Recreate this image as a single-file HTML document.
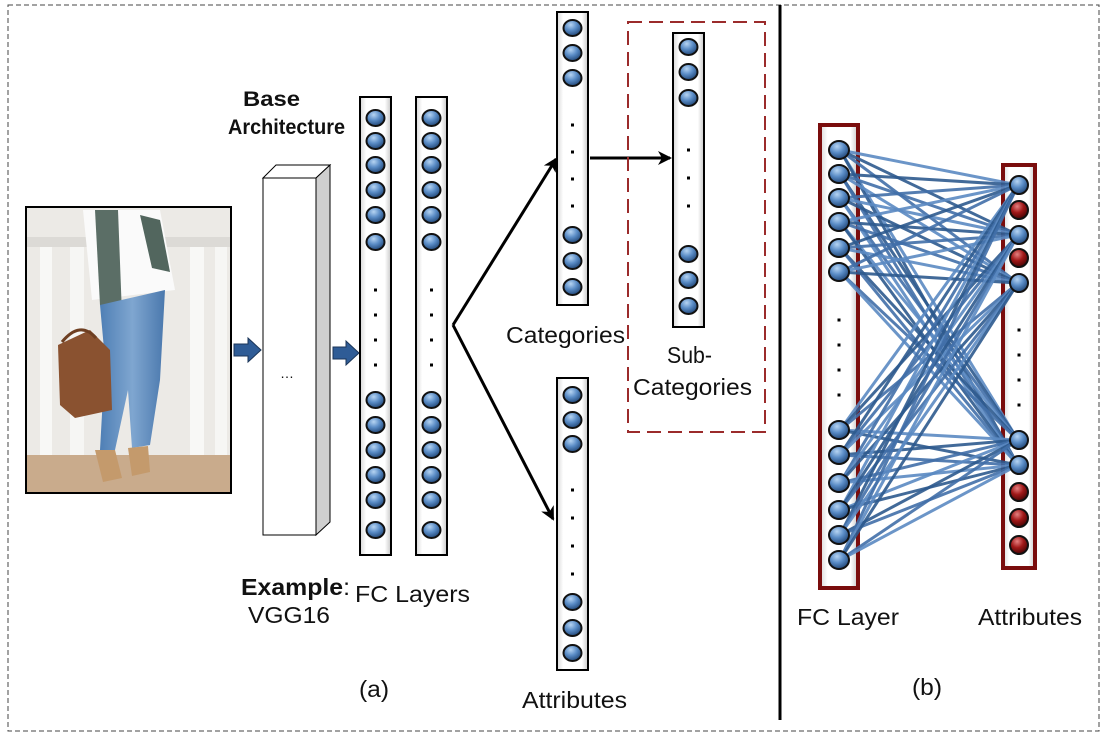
<!DOCTYPE html>
<html><head><meta charset="utf-8"><style>
html,body{margin:0;padding:0;background:#fff}
svg{display:block}
text{font-family:"Liberation Sans",Arial,sans-serif;fill:#111}
</style></head><body>
<svg id="s" width="1106" height="737" viewBox="0 0 1106 737" xmlns="http://www.w3.org/2000/svg">
<defs>
<radialGradient id="bb" cx="0.4" cy="0.3" r="0.7"><stop offset="0" stop-color="#b6d4f2"/><stop offset="0.5" stop-color="#5a8cc6"/><stop offset="1" stop-color="#23497a"/></radialGradient>
<radialGradient id="rb" cx="0.4" cy="0.3" r="0.7"><stop offset="0" stop-color="#e58080"/><stop offset="0.5" stop-color="#a01818"/><stop offset="1" stop-color="#4a0505"/></radialGradient>
<linearGradient id="col" x1="0" x2="1"><stop offset="0" stop-color="#d8d8d8"/><stop offset="0.2" stop-color="#fff"/><stop offset="0.8" stop-color="#fff"/><stop offset="1" stop-color="#c8c8c8"/></linearGradient>
<linearGradient id="jean" x1="0" x2="1"><stop offset="0" stop-color="#4f7fb5"/><stop offset="0.5" stop-color="#7fa6d0"/><stop offset="1" stop-color="#4a78ad"/></linearGradient>
<marker id="ah" markerWidth="14" markerHeight="14" refX="12" refY="7" orient="auto" markerUnits="userSpaceOnUse"><path d="M0,0 L14,7 L0,14 L4,7 z" fill="#000"/></marker>
</defs>
<rect x="8" y="5" width="1091" height="726" fill="none" stroke="#444" stroke-width="1" stroke-dasharray="5,3"/>
<line x1="780" y1="5" x2="780" y2="720" stroke="#000" stroke-width="3"/>

<g>
<rect x="26" y="207" width="205" height="286" fill="#eceae6"/>
<rect x="26" y="237" width="205" height="10" fill="#dcdad6"/>
<rect x="40" y="247" width="12" height="210" fill="#f8f8f6"/>
<rect x="70" y="247" width="14" height="210" fill="#f6f6f4"/>
<rect x="190" y="247" width="14" height="210" fill="#f8f8f6"/>
<rect x="215" y="247" width="12" height="210" fill="#f6f6f4"/>
<rect x="26" y="455" width="205" height="38" fill="#c9ab8c"/>
<path d="M83,210 L160,210 L175,290 L92,300 Z" fill="#fafafa"/>
<path d="M95,210 L118,210 L122,315 L100,305 Z" fill="#5b6e66"/>
<path d="M140,215 L160,220 L170,272 L152,268 Z" fill="#52665e"/>
<path d="M100,305 L165,290 L160,380 L150,445 L132,448 L128,390 L115,450 L100,450 L105,360 Z" fill="url(#jean)"/>
<path d="M95,450 L115,450 L122,478 L103,482 Z" fill="#c49a6c"/>
<path d="M128,448 L148,446 L150,472 L132,476 Z" fill="#c49a6c"/>
<path d="M58,345 L90,330 L110,350 L112,410 L75,418 L60,405 Z" fill="#8a5230"/>
<path d="M62,342 Q80,320 96,338" fill="none" stroke="#6e3f22" stroke-width="3"/>
<rect x="26" y="207" width="205" height="286" fill="none" stroke="#000" stroke-width="2"/>
</g>

<path d="M234,344 L248,344 L248,338 L261,350 L248,362 L248,356 L234,356 Z" fill="#2f5c96" stroke="#1b3558"/>
<path d="M333,347 L346,347 L346,341 L359,353 L346,365 L346,359 L333,359 Z" fill="#2f5c96" stroke="#1b3558"/>

<path d="M263,178 L276,165 L330,165 L316,178 Z" fill="#fff" stroke="#000"/>
<path d="M316,178 L330,165 L330,522 L316,535 Z" fill="#cfcfcf" stroke="#000"/>
<rect x="263" y="178" width="53" height="357" fill="#fff" stroke="#000"/>
<text x="280" y="378" font-size="14">…</text>

<line x1="453" y1="325" x2="556" y2="159" stroke="#000" stroke-width="3" marker-end="url(#ah)"/>
<line x1="453" y1="325" x2="553" y2="519" stroke="#000" stroke-width="3" marker-end="url(#ah)"/>
<line x1="590" y1="158" x2="670" y2="158" stroke="#000" stroke-width="3" marker-end="url(#ah)"/>

<rect x="628" y="22" width="137" height="410" fill="none" stroke="#9b2b2b" stroke-width="2" stroke-dasharray="14,7"/>

<g id="cols"></g>
<g id="net"></g>

<g font-size="23">
<text x="243" y="106" font-size="21" font-weight="bold" textLength="57" lengthAdjust="spacingAndGlyphs">Base</text>
<text x="228" y="134" font-size="21" font-weight="bold" textLength="117" lengthAdjust="spacingAndGlyphs">Architecture</text>
<text x="241" y="595" textLength="109" lengthAdjust="spacingAndGlyphs"><tspan font-weight="bold">Example</tspan>:</text>
<text x="248" y="623" textLength="82" lengthAdjust="spacingAndGlyphs">VGG16</text>
<text x="355" y="602" textLength="115" lengthAdjust="spacingAndGlyphs">FC Layers</text>
<text x="506" y="343" textLength="119" lengthAdjust="spacingAndGlyphs">Categories</text>
<text x="667" y="363" textLength="45" lengthAdjust="spacingAndGlyphs">Sub-</text>
<text x="633" y="395" textLength="119" lengthAdjust="spacingAndGlyphs">Categories</text>
<text x="522" y="708" textLength="105" lengthAdjust="spacingAndGlyphs">Attributes</text>
<text x="359" y="697" textLength="30" lengthAdjust="spacingAndGlyphs">(a)</text>
<text x="797" y="625" textLength="102" lengthAdjust="spacingAndGlyphs">FC Layer</text>
<text x="978" y="625" textLength="104" lengthAdjust="spacingAndGlyphs">Attributes</text>
<text x="912" y="695" textLength="30" lengthAdjust="spacingAndGlyphs">(b)</text>
</g>
</svg>
<script>
var NS="http://www.w3.org/2000/svg";
function el(p,t,a){var e=document.createElementNS(NS,t);for(var k in a)e.setAttribute(k,a[k]);p.appendChild(e);return e;}
var cols=document.getElementById('cols'),net=document.getElementById('net');
function column(x,y1,y2,balls,dots,w,stroke,sw,fill){
  el(cols,'rect',{x:x,y:y1,width:w,height:y2-y1,fill:fill||'url(#col)',stroke:stroke||'#000','stroke-width':sw||2});
  var cx=x+w/2;
  dots.forEach(function(d){el(cols,'rect',{x:cx-1.5,y:d-1.5,width:3,height:3,fill:'#000'});});
  balls.forEach(function(b){el(cols,'ellipse',{cx:cx,cy:b,rx:9,ry:8,fill:'url(#bb)',stroke:'#111','stroke-width':2});});
}
var fcB=[118,141,165,190,215,242,400,425,450,475,500,530],fcD=[290,315,340,365];
column(360,97,555,fcB,fcD,31);
column(416,97,555,fcB,fcD,31);
column(557,12,305,[28,53,78,235,261,287],[125,152,179,206],31);
column(673,33,327,[47,72,98,254,280,306],[150,178,206],31);
column(557,378,670,[395,420,444,602,628,653],[490,518,546,574],31);
var L=[150,174,198,222,248,272,430,455,483,510,535,560];
var R=[185,235,283,440,465];
column(820,125,588,[],[320,345,370,395],38,'#7a0d0d',4,'url(#col)');
column(1003,165,568,[],[330,355,380,405],32,'#7a0d0d',4,'url(#col)');
L.forEach(function(ly,i){R.forEach(function(ry,j){
  var c=((i+j)%3==0)?'#5b89c2':((i+j)%3==1)?'#2e5a8e':'#416fa8';
  el(net,'line',{x1:840,y1:ly,x2:1018,y2:ry,stroke:c,'stroke-width':3,'stroke-opacity':0.9});
});});
L.forEach(function(y){el(net,'ellipse',{cx:839,cy:y,rx:10,ry:9,fill:'url(#bb)',stroke:'#111','stroke-width':2});});
[[185,'b'],[210,'r'],[235,'b'],[258,'r'],[283,'b'],[440,'b'],[465,'b'],[492,'r'],[518,'r'],[545,'r']].forEach(function(b){
  el(net,'ellipse',{cx:1019,cy:b[0],rx:9,ry:9,fill:b[1]=='r'?'url(#rb)':'url(#bb)',stroke:'#111','stroke-width':2});});
</script>
</body></html>
